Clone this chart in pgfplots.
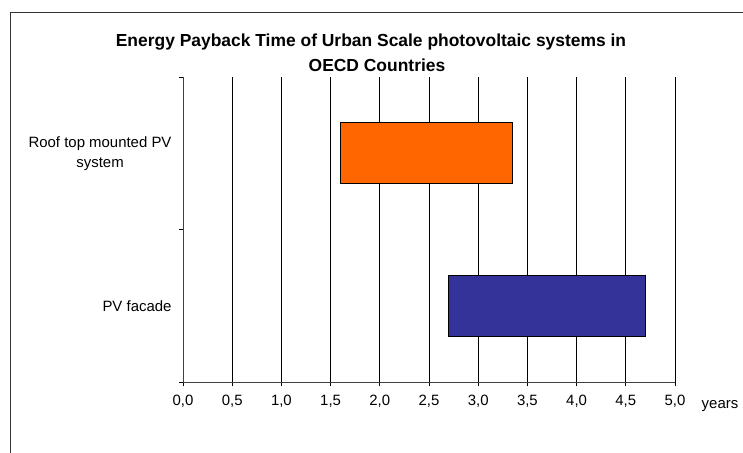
\documentclass[border=0pt]{standalone}
\usepackage{fontspec}
\setmainfont{Liberation Sans}
\usepackage{pgfplots}
\pgfplotsset{compat=1.18}
\definecolor{roofc}{HTML}{FF6600}
\definecolor{facadec}{HTML}{333399}

\begin{document}
\begin{tikzpicture}
\useasboundingbox (0bp,-453bp) rectangle (743bp,0bp);
% chart frame (cut by the page on the right and bottom)
\draw[line width=1bp, black!80] (10.7bp,-470bp) -- (10.7bp,-12.7bp) -- (760bp,-12.7bp);

\node[font=\bfseries\fontsize{17.5}{21}\selectfont, anchor=base] at (371bp,-46bp)
  {Energy Payback Time of Urban Scale photovoltaic systems in};
\node[font=\bfseries\fontsize{17.5}{21}\selectfont, anchor=base] at (377bp,-71bp)
  {OECD Countries};

\begin{axis}[
    at={(183bp,-382bp)}, anchor=south west,
    scale only axis, width=492bp, height=305bp,
    xmin=0, xmax=5, ymin=0, ymax=2,
    xbar stacked, bar width=61bp,
    axis x line*=bottom, axis y line*=left,
    axis line style={black!75, line width=1bp},
    tick align=outside, major tick length=4bp,
    tick style={black, line width=0.8bp},
    xtick={0,0.5,1,1.5,2,2.5,3,3.5,4,4.5,5},
    xticklabels={{0,0},{0,5},{1,0},{1,5},{2,0},{2,5},{3,0},{3,5},{4,0},{4,5},{5,0}},
    xticklabel style={font=\fontsize{15}{18}\selectfont, yshift=-6bp},
    xmajorgrids,
    major grid style={black, line width=0.8bp},
    ytick={0,1,2}, yticklabels={},
    extra y ticks={0.5,1.5},
    extra y tick labels={PV facade,{Roof top mounted PV\\system}},
    extra y tick style={major tick length=0pt, ymajorgrids=false,
      yticklabel style={align=center, font=\fontsize{15}{20}\selectfont, xshift=-8bp}},
]
% invisible offset, then the visible spans (years)
\addplot[draw=none, fill=none] coordinates {(1.6,1.5) (2.7,0.5)};
\addplot[fill=roofc, draw=black, line width=0.8bp] coordinates {(1.75,1.5) (0,0.5)};
\addplot[fill=facadec, draw=black, line width=0.8bp] coordinates {(0,1.5) (2.0,0.5)};
\end{axis}

\node[font=\fontsize{15}{18}\selectfont, anchor=base] at (720bp,-408bp) {years};
\end{tikzpicture}
\end{document}
